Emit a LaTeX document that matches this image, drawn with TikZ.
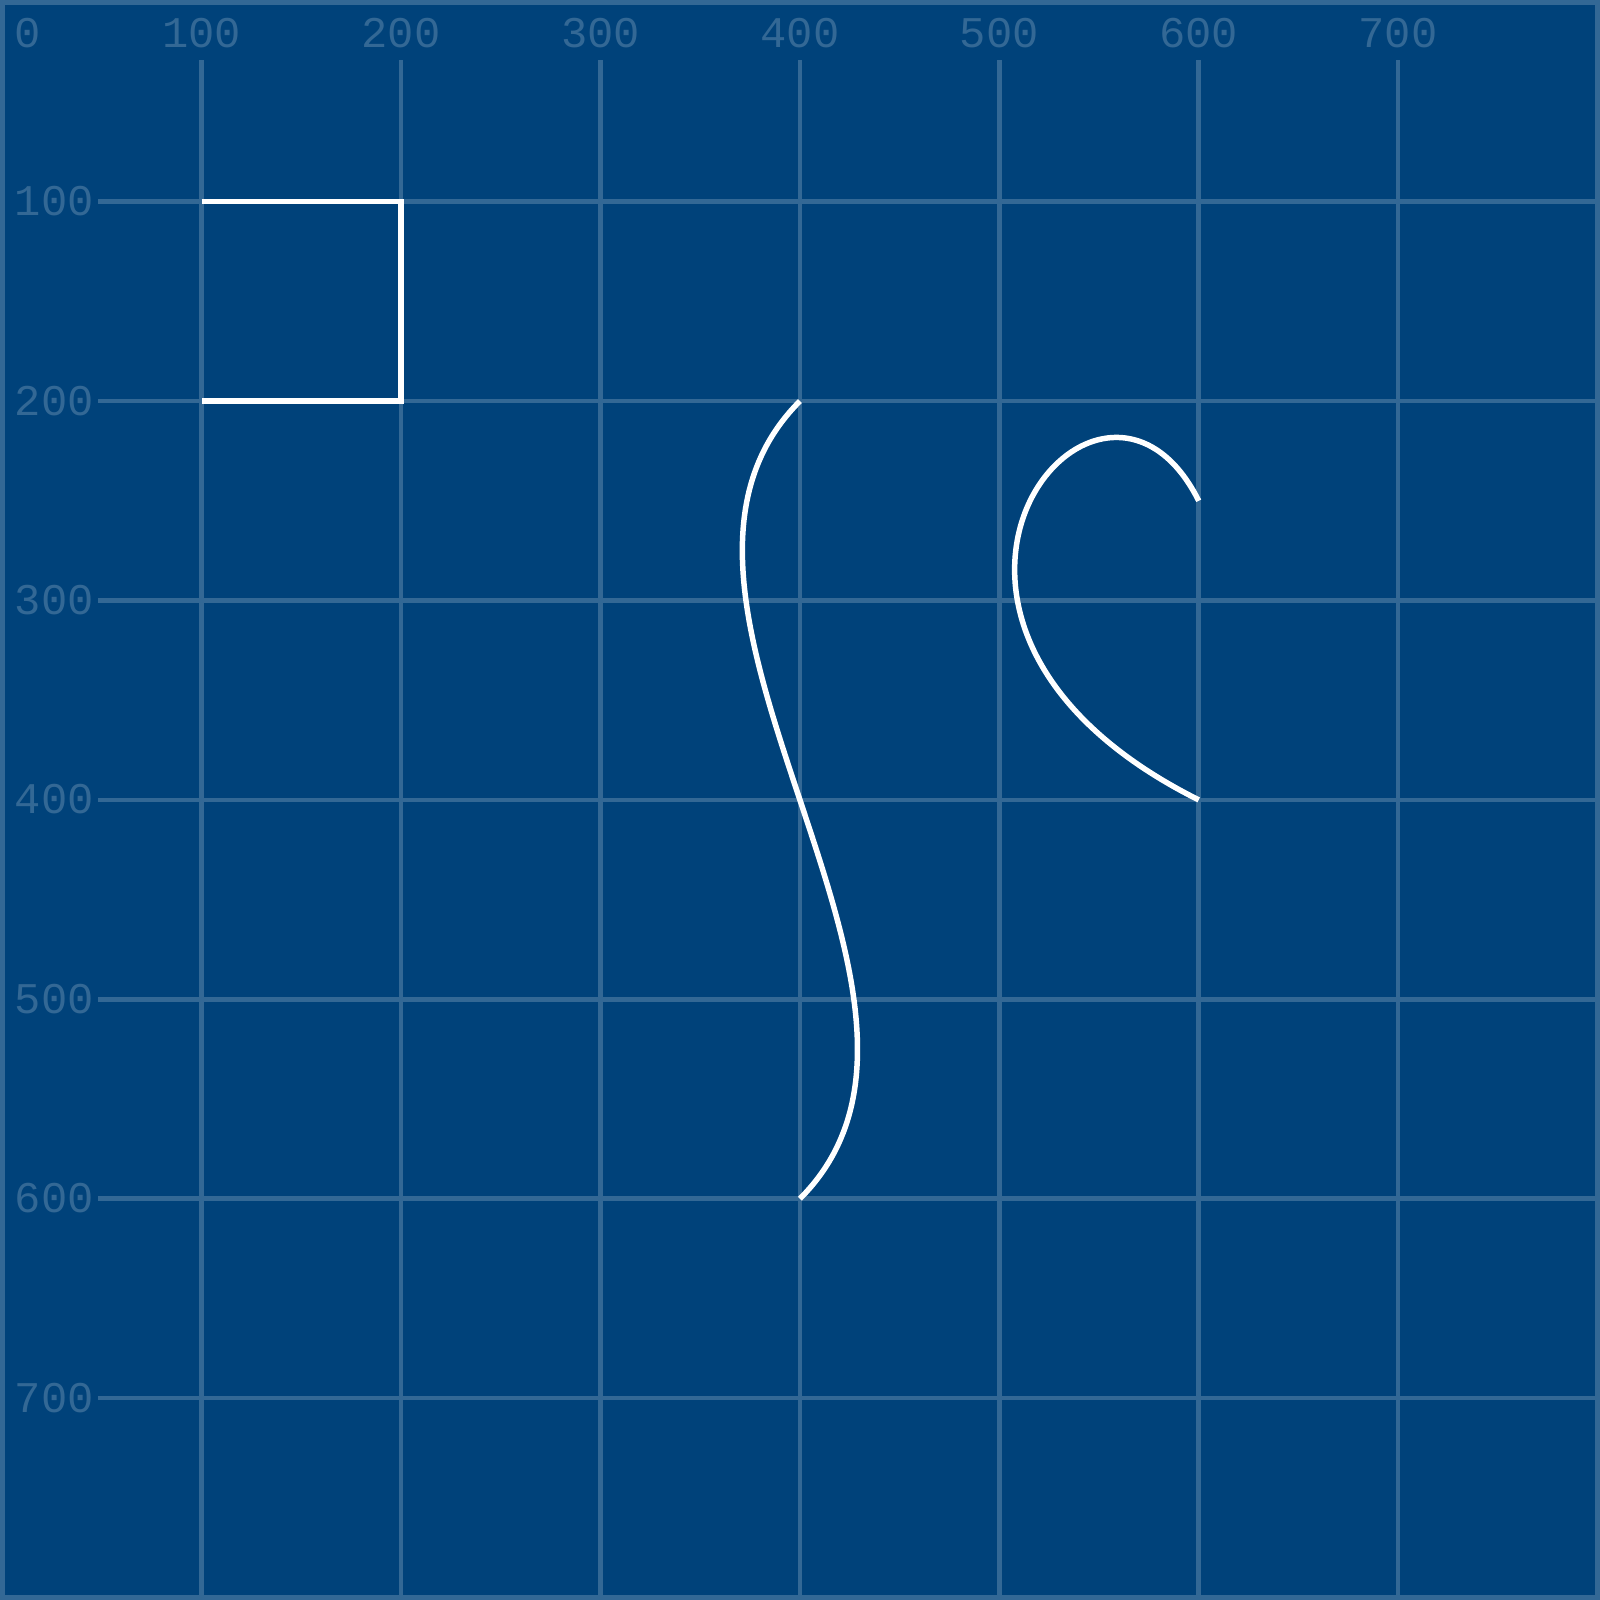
\documentclass[tikz,border=0pt]{standalone}
\usepackage{fontspec}
\newfontfamily\gridfont{Liberation Mono}
\definecolor{blueprint}{HTML}{00427A}
\definecolor{gridcol}{HTML}{336895}

\begin{document}
\begin{tikzpicture}[
    x=0.02cm, y=-0.02cm,
    gridline/.style={draw=gridcol, line width=0.045cm},
    ticklabel/.style={font=\gridfont\fontsize{12.5}{15}\selectfont,
                      text=gridcol, inner sep=0pt},
    sketch/.style={draw=white, line width=0.055cm},
]
\useasboundingbox (-1.15,-1.15) rectangle (801.25,801.25);
\fill[blueprint] (-1.15,-1.15) rectangle (801.25,801.25);

% Grid
\foreach \i in {1,...,7} {
    \draw[gridline] (\i*100,29) -- (\i*100,801.25);
    \draw[gridline] (48,\i*100) -- (801.25,\i*100);
}

% Labels
\node[ticklabel, anchor=base west] (xl0) at (6,22.5) {0};
\foreach \i in {1,...,7} {
    \node[ticklabel, anchor=base] (xl\i) at (\i*100,22.5) {\i00};
    \node[ticklabel, anchor=base west] (yl\i) at (6,\i*100+7) {\i00};
}

% Frame
\draw[gridcol, line width=0.05cm] (0.1,0.1) rectangle (800,800);

% Shapes
\draw[sketch] (100,100) -- (200,100) -- (200,200) -- (100,200);
\draw[sketch] (400,200) .. controls (300,300) and (500,500) .. (400,600);
\draw[sketch] (600,250) .. controls (550,150) and (420,310) .. (600,400);
\end{tikzpicture}
\end{document}
